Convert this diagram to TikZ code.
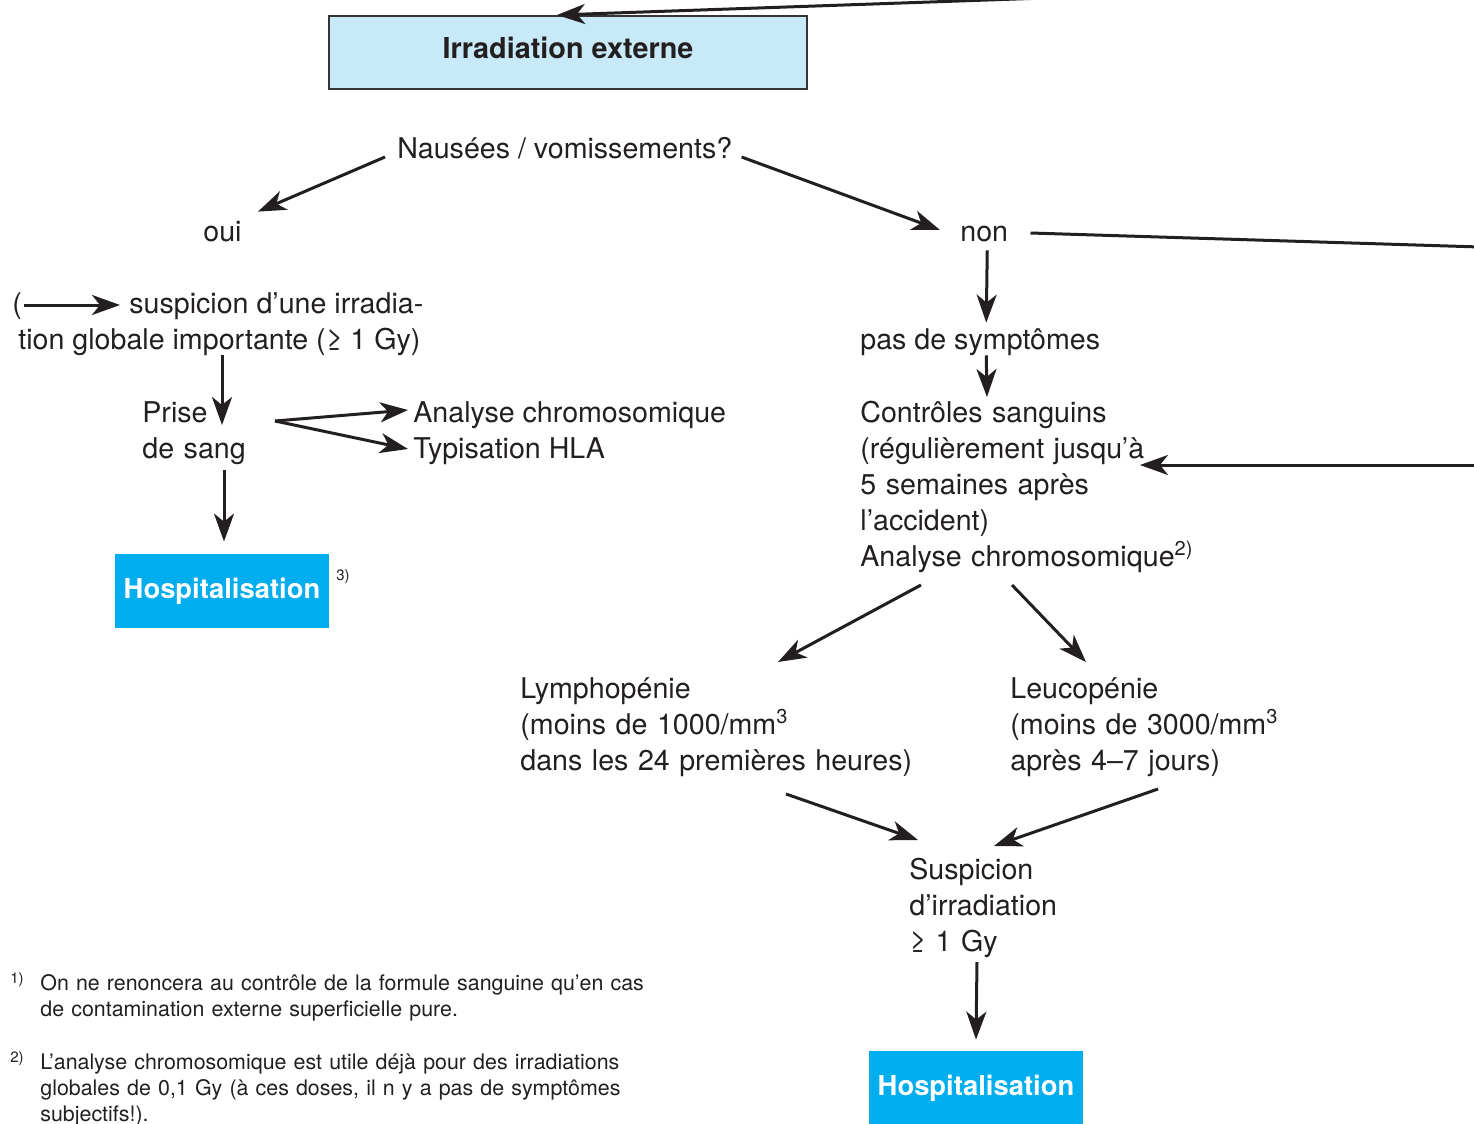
\documentclass[tikz,border=0pt]{standalone}
\usepackage{fontspec}
\setmainfont{TeX Gyre Heros}
\usetikzlibrary{arrows.meta}
\definecolor{ink}{HTML}{231F20}
\definecolor{paleblue}{HTML}{C7E9F8}
\definecolor{hospblue}{HTML}{00ADEE}
\newcommand{\fmain}{\fontsize{14.3}{18}\selectfont}
\newcommand{\fnote}{\fontsize{10.7}{13}\selectfont}
\newcommand{\fmark}{\fontsize{7.5}{9}\selectfont}
\tikzset{
  lbl/.style={inner sep=0, anchor=base west, font=\fmain, text=ink, text height=10pt, text depth=3pt},
  para/.style={inner sep=0, anchor=base west, font=\fmain, text=ink, align=left, text width=#1},
  note/.style={inner sep=0, anchor=base west, font=\fnote, text=ink, align=left, text width=330pt},
  notemark/.style={inner sep=0, anchor=base west, font=\fmark, text=ink},
  arr/.style={-{Stealth[length=14pt, width=10pt, inset=4pt]}, line width=1.5pt, draw=ink},
  hosp/.style={fill=hospblue, text=white, font=\fontsize{13.7}{17}\bfseries\selectfont, minimum width=107pt, minimum height=37pt, inner sep=0},
}
\begin{document}
\begin{tikzpicture}[x=0.5pt, y=-0.5pt]
        \useasboundingbox (0,0) rectangle (1474,1124);
        \node[draw=ink!90, line width=1pt, fill=paleblue, minimum width=239pt, minimum height=36.5pt, text height=10pt, text depth=4pt, font=\fontsize{14.4}{18}\bfseries\selectfont, text=ink] (irr) at (568,52.5) {Irradiation externe};
        \node[lbl] (nausee) at (397,158) {Nausées / vomissements?};
        \node[lbl] (oui) at (203,241) {oui};
        \node[lbl] (non) at (960,241) {non};
        \node[lbl] (paren) at (12,313) {(};
        \node[lbl] (susp1) at (129,313) {suspicion d’une irradia-};
        \node[lbl] (susp2) at (18,349) {tion globale importante (≥ 1 Gy)};
        \node[para=130pt] (prise) at (142,422) {Prise\\de sang};
        \node[lbl] (anal) at (413,422) {Analyse chromosomique};
        \node[lbl] (typ) at (413,458) {Typisation HLA};
        \node[hosp] (hosp1) at (222,591) {Hospitalisation};
        \node[notemark] (ref3) at (336,580) {3)};
        \node[lbl] (pas) at (860,349) {pas de symptômes};
        \node[para=180pt] (ctrl) at (860,422) {Contrôles sanguins\\(régulièrement jusqu’à\\5 semaines après\\l’accident)\\Analyse chromosomique\textsuperscript{2)}};
        \node[para=200pt] (lymph) at (520,698) {Lymphopénie\\(moins de 1000/mm\textsuperscript{3}\\dans les 24 premières heures)};
        \node[para=150pt] (leuco) at (1010,698) {Leucopénie\\(moins de 3000/mm\textsuperscript{3}\\après 4–7 jours)};
        \node[para=80pt] (suspG) at (909,879) {Suspicion\\d’irradiation\\≥ 1 Gy};
        \node[hosp] (hosp2) at (976,1088) {Hospitalisation};
        \node[notemark] (m1) at (10,983) {1)};
        \node[note] (fn1) at (40,990) {On ne renoncera au contrôle de la formule sanguine qu’en cas\\de contamination externe superficielle pure.};
        \node[notemark] (m2) at (10,1062) {2)};
        \node[note] (fn2) at (40,1069) {L’analyse chromosomique est utile déjà pour des irradiations\\globales de 0,1 Gy (à ces doses, il n y a pas de symptômes\\subjectifs!).};
        \coordinate (topin) at (1045,-2);
        \coordinate (nonout) at (1480,247);
        \coordinate (backin) at (1480,465);
        \draw[arr] (topin) -- ([shift={(-11,0)}]irr.north);
        \draw[arr] ([shift={(-12,6)}]nausee.west) -- ([shift={(16,-9)}]oui.north east);
        \draw[arr] ([shift={(9,6)}]nausee.east) -- ([shift={(-20,-4)}]non.west);
        \draw[line width=1.5pt, ink] ([shift={(22,-1)}]non.east) -- (nonout);
        \draw[arr] ([shift={(3,3)}]non.south) -- ([shift={(6,-6)}]pas.north);
        \draw[arr] ([shift={(6,0)}]pas.south) -- ([shift={(127,-25)}]ctrl.base west);
        \draw[arr] (backin) -- ([shift={(280,43)}]ctrl.base west);
        \draw[arr] ([shift={(61,163)}]ctrl.base west) -- ([shift={(258,-36)}]lymph.base west);
        \draw[arr] ([shift={(152,163)}]ctrl.base west) -- ([shift={(76,-36)}]leuco.base west);
        \draw[arr] ([shift={(266,96)}]lymph.base west) -- ([shift={(9,-39)}]suspG.base west);
        \draw[arr] ([shift={(148,91)}]leuco.base west) -- ([shift={(85,-33)}]suspG.base west);
        \draw[arr] ([shift={(68,83)}]suspG.base west) -- ([shift={(0,-11)}]hosp2.north);
        \draw[arr] ([shift={(2,-1)}]paren.east) -- ([shift={(-9,-1)}]susp1.west);
        \draw[arr] ([shift={(204,0)}]susp2.south west) -- ([shift={(80,3)}]prise.base west);
        \draw[arr] ([shift={(133,-1)}]prise.base west) -- ([shift={(-5,-5)}]anal.west);
        \draw[arr] ([shift={(133,-1)}]prise.base west) -- ([shift={(-5,-2)}]typ.west);
        \draw[arr] ([shift={(82,48)}]prise.base west) -- ([shift={(2,-12)}]hosp1.north);
\end{tikzpicture}
\end{document}
